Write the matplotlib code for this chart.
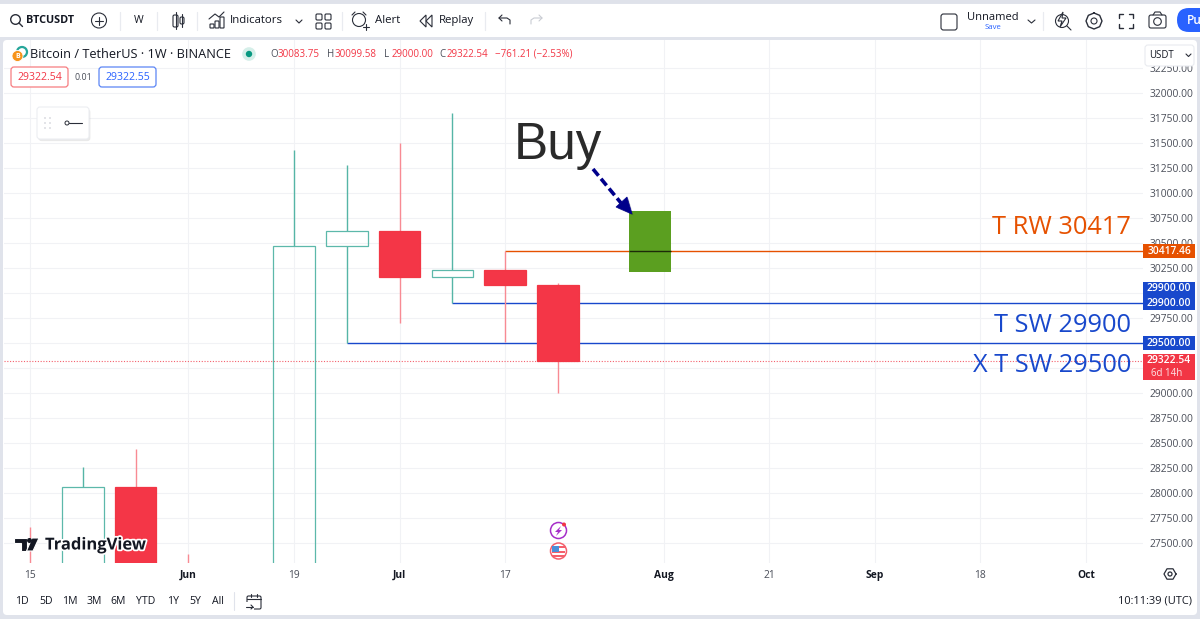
import math
import matplotlib
matplotlib.use("Agg")
import matplotlib.pyplot as plt
import matplotlib.patheffects as pe
from matplotlib.patches import Rectangle, FancyBboxPatch, Circle, Polygon

# ---------- data ----------
candle_pos = [0, 1, 2, 3, 4, 5, 6, 7, 8, 9, 10]
opens = [26920, 26750, 28060, 27230, 25900, 26340, 30470, 30620, 30160, 30230, 30083.75]
highs = [27660, 28260, 28440, 27390, 27000, 31430, 31280, 31500, 31800, 30417.46, 30099.58]
lows = [26340, 26000, 26500, 25350, 24800, 26200, 29500, 29700, 29900, 29510, 29000.00]
closes = [26750, 28060, 27230, 25900, 26340, 30470, 30620, 30160, 30230, 30083.75, 29322.54]

x_tick_pos = [0, 3, 5, 7, 9, 12, 14, 16, 18, 20]
x_tick_labels = ["15", "Jun", "19", "Jul", "17", "Aug", "21", "Sep", "18", "Oct"]
price_ticks = [27500 + 250 * i for i in range(20)]
hidden_price_labels = [29250, 29500, 30000]

level_prices = [30417.46, 29900.00, 29500.00]
level_starts = [9, 8, 6]
level_colors = ["#e65100", "#1848cc", "#1848cc"]
level_names = ["T RW 30417", "T SW 29900", "X T SW 29500"]
level_caption_y = [30650, 29680, 29280]
last_price = 29322.54
buy_box_x = [11.34, 12.14]
buy_box_y = [30210, 30820]

# ---------- layout ----------
W, H = 1200, 619
L, R, T, B = 4, 1143, 40, 563
SP = 52.8
P0 = 27300
GREY = "#e0e3eb"
TXT = "#131722"
SUB = "#4a4e59"
plt.rcParams["font.family"] = ["Open Sans", "DejaVu Sans"]

fig = plt.figure(figsize=(W / 100, H / 100), dpi=100, facecolor=GREY)


def overlay(z):
    a = fig.add_axes([0, 0, 1, 1], zorder=z)
    a.set_xlim(0, W)
    a.set_ylim(H, 0)
    a.axis("off")
    a.patch.set_alpha(0)
    return a


bg = overlay(0)
fg = overlay(3)
bg.add_patch(Rectangle((0, 0), W, 3, fc="#dfe2ea", ec="none"))
bg.add_patch(Rectangle((0, 4), W, 33, fc="white", ec="none"))
bg.add_patch(FancyBboxPatch((5, 42), 1190, 571, boxstyle="round,pad=2,rounding_size=4", fc="white", ec="none"))

# ---------- main chart ----------
ax = fig.add_axes([L / W, 1 - B / H, (R - L) / W, (B - T) / H], zorder=1)
ax.patch.set_alpha(0)
ax.set_xlim((L - 30) / SP, (R - 30) / SP)
ax.set_ylim(P0, P0 + (B - T) * 10)
for s in ax.spines.values():
    s.set_visible(False)
ax.yaxis.tick_right()
ax.set_yticks(price_ticks)
ax.set_yticklabels(["" if p in hidden_price_labels else f"{p:.2f}" for p in price_ticks], fontsize=7.4, color=SUB)
ax.set_xticks(x_tick_pos)
ax.set_xticklabels(x_tick_labels, fontsize=7.4, color=SUB)
for lab, txt in zip(ax.get_xticklabels(), x_tick_labels):
    if txt.isalpha():
        lab.set_fontweight("bold")
        lab.set_color(TXT)
ax.tick_params(axis="both", length=0)
ax.tick_params(axis="x", pad=5)
ax.tick_params(axis="y", pad=5)
ax.set_axisbelow(True)
ax.grid(True, color="#f1f2f5", lw=0.8)

ax.axhline(last_price, color="#f4606c", lw=0.8, ls=(0, (1, 1.5)), zorder=1.6)

for p, s, c in zip(level_prices, level_starts, level_colors):
    ax.plot([s, ax.get_xlim()[1]], [p, p], color=c, lw=1.0, zorder=2, solid_capstyle="butt")

width = 0.79
for x, o, h, l, c in zip(candle_pos, opens, highs, lows, closes):
    up = c >= o
    wick = "#55b5a6" if up else "#f88a93"
    edge = "#5cb8aa" if up else "#f23645"
    top, bot = max(o, c), min(o, c)
    ax.plot([x, x], [top, h], color=wick, lw=1.0, zorder=3, solid_capstyle="butt")
    ax.plot([x, x], [l, bot], color=wick, lw=1.0, zorder=3, solid_capstyle="butt")
    ax.add_patch(Rectangle((x - width / 2, bot), width, top - bot, fc="none" if up else "#f43647",
                           ec=edge, lw=0.9, zorder=3.2))

ax.add_patch(Rectangle((buy_box_x[0], buy_box_y[0]), buy_box_x[1] - buy_box_x[0], buy_box_y[1] - buy_box_y[0],
                       fc="#5b9f20", ec="none", zorder=4))
ax.plot(buy_box_x, [level_prices[0]] * 2, color="#1d2a08", lw=1.0, zorder=4.1, solid_capstyle="butt")

# level captions
cap_xf = (1131 - L) / (R - L)
ytr = ax.get_yaxis_transform()
for name, color, yp in zip(level_names, level_colors, level_caption_y):
    ax.text(cap_xf, yp, name, transform=ytr, ha="right", va="center", color=color, fontsize=18.3, zorder=6)

# price tags on the scale
tag_w = 52 / (R - L)
tag_h = 7.0 * 10


def tag(p, color, label, off=0.0):
    ax.add_patch(Rectangle((1.0, p + off - tag_h), tag_w, 2 * tag_h, transform=ytr, fc=color, ec="none",
                           clip_on=False, zorder=7))
    ax.text(1.0 + tag_w / 2, p + off, label, transform=ytr, ha="center", va="center", color="white",
            fontsize=7.4, fontweight="semibold", clip_on=False, zorder=8)


tag(level_prices[0], "#e65100", f"{level_prices[0]:.2f}")
tag(level_prices[1], "#1848cc", f"{level_prices[1]:.2f}", off=145)
tag(level_prices[1], "#1848cc", f"{level_prices[1]:.2f}")
tag(level_prices[2], "#1848cc", f"{level_prices[2]:.2f}")
ax.add_patch(Rectangle((1.0, last_price - 190), tag_w, 260, transform=ytr, fc="#f23645", ec="none", clip_on=False, zorder=7))
ax.text(1.0 + tag_w / 2, last_price, f"{last_price:.2f}", transform=ytr, ha="center", va="center", color="white",
        fontsize=7.4, fontweight="semibold", zorder=8, clip_on=False)
ax.text(1.0 + 24 / (R - L), last_price - 125, "6d 14h", transform=ytr, ha="center", va="center", color="#fde4e6",
        fontsize=7, zorder=8, clip_on=False)


# ---------- helpers for chrome ----------
def t(x, y, s, size=7.6, color=TXT, ha="left", weight="normal", a=fg, **k):
    return a.text(x, y, s, fontsize=size, color=color, ha=ha, va="center", fontweight=weight, **k)


def ln(xs, ys, color="#2a2e39", lw=0.8, a=fg, **k):
    a.plot(xs, ys, color=color, lw=lw, solid_capstyle="round", **k)


def box(x, y, w, h, ec="#2a2e39", fc="none", lw=0.8, a=fg, r=1.5, **k):
    a.add_patch(FancyBboxPatch((x, y), w, h, boxstyle=f"round,pad=0,rounding_size={r}", fc=fc, ec=ec, lw=lw, **k))


def circ(x, y, r, ec="#2a2e39", fc="none", lw=0.8, a=fg):
    a.add_patch(Circle((x, y), r, fc=fc, ec=ec, lw=lw))


# toolbar
Y = 20.5
circ(15.5, Y - 1, 4.8, lw=1.0)
ln([19, 22.5], [Y + 2.5, Y + 6], lw=1.0)
t(26, Y, "BTCUSDT", 7.8, weight="bold")
circ(99, Y, 7.5)
ln([95, 103], [Y, Y])
ln([99, 99], [Y - 4, Y + 4])
for dx in [120, 157, 197, 342, 485, 1043]:
    ln([dx, dx], [Y - 9, Y + 9], color="#e9ebf0", lw=0.9)
t(139, Y, "W", 7.6, ha="center")
box(173, 15, 5, 12)
ln([175.5, 175.5], [12, 29])
box(180, 17, 4, 7)
ln([182, 182], [14, 27])
for bx, bh in [(210, 4), (215, 7), (220, 11)]:
    box(bx, 28 - bh, 4, bh, r=0.5)
ln([209, 215, 219, 224], [19, 14, 17, 12])
t(230, Y, "Indicators", 8.2)
ln([296, 299, 302], [20, 23, 20], lw=0.8)
for qx in [316, 325]:
    for qy in [14, 23]:
        box(qx, qy, 6, 6, r=1.2)
circ(359, 20, 6.5)
ln([355, 352], [12, 15])
ln([363, 366], [12, 15])
ln([366, 366], [24, 30])
ln([363, 369], [27, 27])
t(375, Y, "Alert", 8.2)
fg.add_patch(Polygon([[426, 15], [420, 21], [426, 27]], closed=True, fc="none", ec="#2a2e39", lw=0.8))
fg.add_patch(Polygon([[432, 15], [426, 21], [432, 27]], closed=True, fc="none", ec="#2a2e39", lw=0.8))
t(439, Y, "Replay", 8.2)
ln([502, 499, 502], [15, 18, 21])
ln([499, 507, 510, 510], [18, 18, 20, 24])
ln([539, 542, 539], [15, 18, 21], color="#c9ccd3")
ln([542, 534, 531, 531], [18, 18, 20, 24], color="#c9ccd3")
box(941, 14, 16, 16, r=2.5)
t(993, 17, "Unnamed", 8.0, ha="center")
t(993, 27.5, "Save", 5.6, ha="center", color="#2962ff")
ln([1028, 1031.5, 1035], [20, 23, 20], lw=0.8)
circ(1062, 21, 6.5)
ln([1067, 1071], [26, 30])
fg.add_patch(Polygon([[1063, 12], [1058, 21], [1062, 21], [1060, 27], [1066, 18], [1062, 18]], closed=True,
                     fc="white", ec="#2a2e39", lw=0.8))
th = [0, 45, 90, 135, 180, 225, 270, 315, 360]
fg.plot([1094 + 8 * math.sin(math.radians(a)) for a in th], [21 - 8 * math.cos(math.radians(a)) for a in th],
        color="#2a2e39", lw=1.0)
circ(1094, 21, 3)
for cx, cy, sx, sy in [(1119, 14, 1, 1), (1133, 14, -1, 1), (1119, 28, 1, -1), (1133, 28, -1, -1)]:
    ln([cx, cx, cx + 4 * sx], [cy + 4 * sy, cy, cy], lw=1.0)
box(1149, 15, 17, 13, r=2)
circ(1157.5, 21.5, 3.8)
ln([1153, 1155, 1160, 1162], [15, 12, 12, 15])
fg.add_patch(FancyBboxPatch((1177, 8), 40, 24, boxstyle="round,pad=0,rounding_size=12", fc="#2962ff", ec="none"))
t(1187, 20.5, "Pu", 8.6, color="white", weight="semibold")

# legend row
fg.add_patch(Circle((22, 52), 5, fc="none", ec="#26a69a", lw=1.6))
fg.add_patch(Circle((17.5, 56), 5.5, fc="#f7931a", ec="white", lw=0.6))
t(17.5, 56, "B", 5.0, color="white", ha="center", weight="bold")
t(30, 54, "Bitcoin / TetherUS · 1W · BINANCE", 9.2, color="#131722")
circ(249, 54, 6.8, ec="none", fc="#d5efe9")
circ(249, 54, 3.2, ec="none", fc="#089981")
RED = "#f23645"
for xx, a_, b_ in [(270, "O", "30083.75"), (327, "H", "30099.58"), (384, "L", "29000.00"), (439, "C", "29322.54")]:
    t(xx, 54.5, a_, 7.0, color=SUB)
    t(xx + 8, 54.5, b_, 7.0, color=RED)
t(495, 54.5, "−761.21 (−2.53%)", 7.0, color=RED)
box(11, 67, 57, 20, ec="#f77c80", fc="white", lw=0.9, r=3)
t(39.5, 77, "29322.54", 7.6, color=RED, ha="center")
t(83, 77, "0.01", 6.4, color=SUB, ha="center")
box(99, 67, 57, 20, ec="#5b85f5", fc="white", lw=0.9, r=3)
t(127.5, 77, "29322.55", 7.6, color="#2962ff", ha="center")

# USDT selector (hides the clipped top scale label)
fg.add_patch(Rectangle((1143, 41), 53, 25, fc="white", ec="none"))
box(1145, 45, 49, 21, ec="#e9ebf0", fc="white", r=3)
t(1149, 55, "USDT", 6.9, color=TXT)
ln([1186, 1188.5, 1191], [54, 56.5, 54], lw=0.8)

# floating tool
box(37, 107, 52, 32, ec="#eceef2", fc="white", r=3,
    path_effects=[pe.SimplePatchShadow(offset=(1, -1.5), alpha=0.12), pe.Normal()])
for dx in [45, 50]:
    for dy in [118, 123, 128]:
        circ(dx, dy, 0.7, ec="none", fc="#b8bbc4")
circ(67, 123, 2, lw=0.7)
ln([69, 82], [123, 123])

# Buy note
fg.text(514, 145, "Buy", fontsize=36.8, color="#2a2a2a", family="Liberation Sans", ha="left", va="center")
ln([593, 621], [169, 203], color="#00008b", lw=2.6, ls=(0, (2.4, 1.1)), zorder=4)
fg.add_patch(Polygon([[632, 214], [616, 207], [627, 197]], closed=True, fc="#00008b", ec="#00008b", lw=0.5,
                     path_effects=[pe.SimplePatchShadow(offset=(1, -1), alpha=0.25), pe.Normal()]))

# watermark
wm = [pe.withStroke(linewidth=2.5, foreground="white")]
fg.add_patch(Polygon([[14, 538], [27, 538], [27, 551], [21, 551], [21, 543], [14, 543]], closed=True, fc="#131722",
                     ec="white", lw=0.8))
fg.add_patch(Polygon([[32, 538], [39, 538], [33, 551], [26.5, 551]], closed=True, fc="#131722", ec="white", lw=0.8))
circ(29.5, 540.5, 2.5, ec="none", fc="#131722")
t(45, 544.5, "TradingView", 11.9, color="#131722", weight="bold", path_effects=wm)

# event icons
circ(558.5, 530.5, 8, ec="#a62fc9", lw=1.1)
fg.add_patch(Polygon([[561, 526], [555, 532], [558, 532], [556, 536], [562, 530], [559, 530]], closed=True,
                     fc="#a62fc9", ec="none"))
circ(564, 524.5, 2, ec="none", fc=RED)
circ(558.5, 551, 8, ec="#f4606c", fc="white", lw=1.1)
fg.add_patch(Rectangle((552, 546), 13, 2.4, fc="#f4606c", ec="none"))
fg.add_patch(Rectangle((552, 551), 13, 2.2, fc="#f4606c", ec="none"))
fg.add_patch(Rectangle((552, 555), 13, 1.6, fc="#f4606c", ec="none"))
fg.add_patch(Rectangle((552, 545.5), 7, 6, fc="#4a90d9", ec="none"))

# axis gear
hx = [0, 60, 120, 180, 240, 300, 360]
fg.plot([1170 + 6 * math.cos(math.radians(a)) for a in hx], [574 + 6 * math.sin(math.radians(a)) for a in hx],
        color="#2a2e39", lw=0.9)
circ(1170, 574, 2, lw=0.9)

# bottom bar
for xx, s in zip([22, 46, 70, 94, 118, 146, 173, 195, 218], ["1D", "5D", "1M", "3M", "6M", "YTD", "1Y", "5Y", "All"]):
    t(xx, 601, s, 7.6, ha="center")
ln([234, 234], [592, 610], color="#e0e3eb")
box(247, 596, 14, 13, r=1.5)
ln([247, 261], [599, 599])
ln([251, 251], [594, 597])
ln([257, 257], [594, 597])
fg.add_patch(Rectangle((245, 602), 9, 9, fc="white", ec="none"))
ln([246, 253], [607, 607])
ln([251, 253, 251], [605, 607, 609])
t(1192, 601, "10:11:39 (UTC)", 7.9, ha="right")

fig.savefig("out.png", dpi=100, facecolor=fig.get_facecolor())
